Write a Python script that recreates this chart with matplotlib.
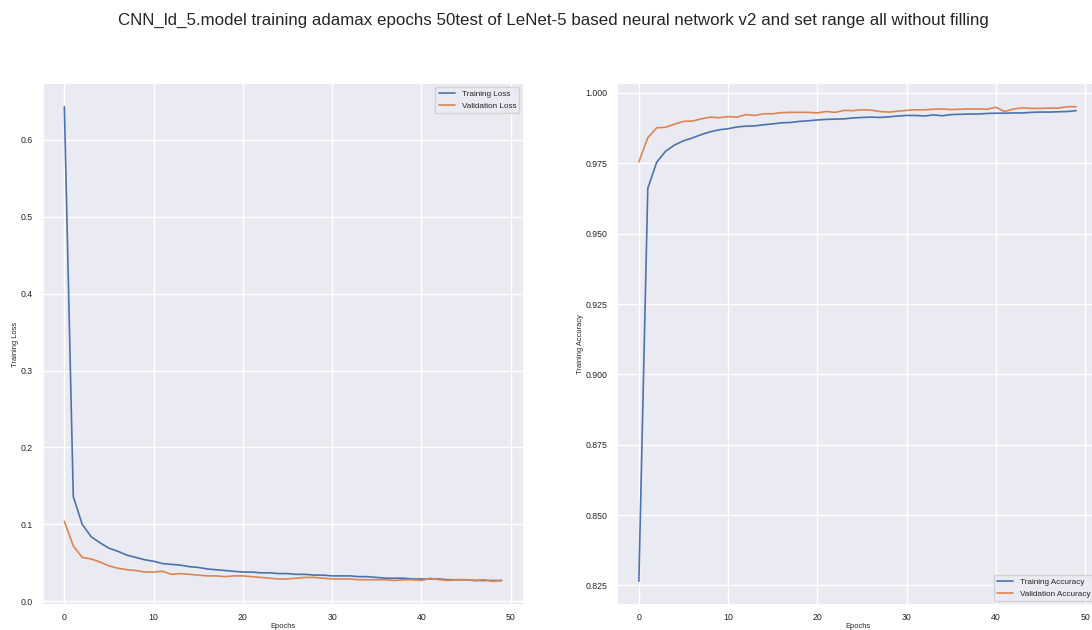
import matplotlib
matplotlib.use("Agg")
import matplotlib.pyplot as plt
import seaborn as sns

# training history
epochs = list(range(50))

train_loss = [0.643, 0.136, 0.100, 0.084, 0.076, 0.069, 0.065, 0.060, 0.057, 0.054,
              0.052, 0.049, 0.048, 0.047, 0.045, 0.044, 0.042, 0.041, 0.040, 0.039,
              0.038, 0.038, 0.037, 0.037, 0.036, 0.036, 0.035, 0.035, 0.034, 0.034,
              0.033, 0.033, 0.033, 0.032, 0.032, 0.031, 0.030, 0.030, 0.030, 0.029,
              0.029, 0.029, 0.029, 0.028, 0.028, 0.028, 0.027, 0.027, 0.027, 0.027]
val_loss = [0.104, 0.072, 0.057, 0.055, 0.051, 0.046, 0.043, 0.041, 0.040, 0.038,
            0.038, 0.039, 0.035, 0.036, 0.035, 0.034, 0.033, 0.033, 0.032, 0.033,
            0.033, 0.032, 0.031, 0.030, 0.029, 0.029, 0.030, 0.031, 0.031, 0.030,
            0.029, 0.029, 0.029, 0.028, 0.028, 0.028, 0.028, 0.027, 0.028, 0.028,
            0.027, 0.030, 0.028, 0.027, 0.028, 0.028, 0.027, 0.028, 0.026, 0.027]

train_acc = [0.8265, 0.9661, 0.9754, 0.9793, 0.9815, 0.9830, 0.9840, 0.9852, 0.9862, 0.9869,
             0.9873, 0.9879, 0.9882, 0.9883, 0.9887, 0.9890, 0.9894, 0.9895, 0.9899, 0.9901,
             0.9904, 0.9906, 0.9907, 0.9908, 0.9911, 0.9913, 0.9914, 0.9913, 0.9915, 0.9918,
             0.9920, 0.9920, 0.9918, 0.9922, 0.9919, 0.9923, 0.9924, 0.9925, 0.9925, 0.9927,
             0.9928, 0.9928, 0.9929, 0.9929, 0.9931, 0.9932, 0.9932, 0.9933, 0.9934, 0.9937]
val_acc = [0.9755, 0.9841, 0.9876, 0.9878, 0.9889, 0.9899, 0.9900, 0.9908, 0.9914, 0.9912,
           0.9916, 0.9914, 0.9923, 0.9920, 0.9926, 0.9926, 0.9930, 0.9931, 0.9931, 0.9931,
           0.9929, 0.9934, 0.9931, 0.9938, 0.9937, 0.9940, 0.9939, 0.9934, 0.9932, 0.9935,
           0.9938, 0.9940, 0.9940, 0.9942, 0.9943, 0.9941, 0.9942, 0.9943, 0.9943, 0.9942,
           0.9949, 0.9934, 0.9943, 0.9947, 0.9945, 0.9945, 0.9946, 0.9946, 0.9951, 0.9951]

title = "CNN_ld_5.model training adamax epochs 50test of LeNet-5 based neural network v2 and set range all without filling"

sns.set_theme(style="darkgrid")
plt.rcParams['font.family'] = ['Liberation Sans', 'DejaVu Sans']

fig = plt.figure(figsize=(10.92, 6.3), dpi=100)
W, H = 1092, 630

# axes placed in pixel units; the right panel runs past the edge like the reference
ax1 = fig.add_axes([42.5 / W, 25 / H, 481 / W, 522 / H])
ax2 = fig.add_axes([617 / W, 25 / H, 481 / W, 522 / H])

ax1.plot(epochs, train_loss, label="Training Loss", linewidth=1.2)
ax1.plot(epochs, val_loss, label="Validation Loss", linewidth=1.2)
ax1.set_ylabel("Training Loss", fontsize=5.4, labelpad=1)
ax1.legend(loc="upper right", fontsize=5.9)

ax2.plot(epochs, train_acc, label="Training Accuracy", linewidth=1.2)
ax2.plot(epochs, val_acc, label="Validation Accuracy", linewidth=1.2)
ax2.set_ylabel("Training Accuracy", fontsize=5.4, labelpad=1)
ax2.legend(loc="lower right", fontsize=5.9)

for ax in (ax1, ax2):
    ax.set_xlabel("Epochs", fontsize=5.4, labelpad=0.5)
    ax.tick_params(axis="y", labelsize=6.3, length=0, pad=7)
    ax.tick_params(axis="x", labelsize=6.3, length=0, pad=6)

fig.suptitle(title, x=0.507, y=1 - 20 / H, va="center", fontsize=12.2)

fig.savefig("out.png", dpi=100)
plt.close(fig)
